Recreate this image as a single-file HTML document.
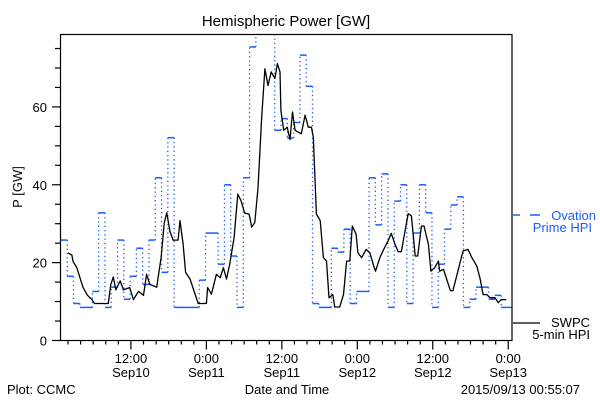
<!DOCTYPE html>
<html><head><meta charset="utf-8"><style>
html,body{margin:0;padding:0;background:#fff;}
svg{display:block;font-family:"Liberation Sans",sans-serif;}
</style></head><body>
<svg id="chart" width="600" height="400" viewBox="0 0 600 400" xmlns="http://www.w3.org/2000/svg">
<rect width="600" height="400" fill="#fff"/>
<text x="286" y="26" font-size="15" text-anchor="middle">Hemispheric Power [GW]</text>
<text x="22" y="187" font-size="13" text-anchor="middle" transform="rotate(-90 22 187)">P [GW]</text>
<text x="287" y="394" font-size="13" text-anchor="middle">Date and Time</text>
<text x="7" y="394" font-size="13">Plot: CCMC</text>
<text x="580" y="394" font-size="13" text-anchor="end">2015/09/13 00:55:07</text>
<g id="grid"></g>
<g id="marks"></g>
<rect x="60.5" y="34.5" width="451.5" height="306" fill="none" stroke="#000" stroke-width="1.2"/>
<g>
<line x1="513" y1="215" x2="520" y2="215" stroke="#1a5cff" stroke-width="1.5"/>
<line x1="530" y1="215" x2="540" y2="215" stroke="#1a5cff" stroke-width="1.5"/>
<text x="596" y="220" font-size="13" fill="#1a5cff" text-anchor="end">Ovation</text>
<text x="592" y="232" font-size="13" fill="#1a5cff" text-anchor="end">Prime HPI</text>
</g>
<g>
<line x1="513" y1="323" x2="540" y2="323" stroke="#000" stroke-width="1.2"/>
<text x="590" y="327" font-size="13" text-anchor="end">SWPC</text>
<text x="590" y="339" font-size="13" text-anchor="end">5-min HPI</text>
</g>
</svg>
<script>
// data: hours since 2015-09-10 00:00
const blueStart = 0.87;
const blueValues = [25.8,16.5,9.5,8.5,8.5,12.6,32.8,8.5,13.7,25.8,10.6,16.5,23.7,14.4,25.8,41.8,17.5,52.1,8.5,8.5,8.5,8.5,15.5,27.6,27.6,19.6,40,21.7,8.5,41.8,75.4,82,82,82,54,57,52,56,73.3,65.3,9.5,8.5,8.5,23.7,22.7,28.6,9.5,12.6,12.6,41.8,29.7,42.8,8.5,35.8,40,9.5,27.6,40,32.8,8.5,19.6,28.6,34.8,36.9,8.5,10.6,13.7,13.7,10.6,11.6,8.5,8.5];
const lineTimes = [2.0,2.6,2.8,3.4,3.9,4.4,5.1,5.8,6.2,8.4,8.8,9.2,9.6,10.3,10.8,11.8,12.4,13.2,14.0,14.5,15.0,16.1,16.8,17.3,17.7,18.2,18.7,19.5,19.8,20.3,20.7,21.4,22.7,24.0,24.2,24.8,25.6,26.2,26.7,27.2,27.7,28.4,29.0,29.5,30.1,30.8,31.2,31.7,32.2,32.8,33.3,33.8,34.3,34.9,35.3,35.7,35.85,36.3,36.85,37.3,37.7,38.1,39.1,39.7,40.2,40.7,41.0,41.5,42.1,42.6,43.1,43.5,44.1,44.4,45.2,45.8,46.3,46.8,47.2,47.8,48.1,48.7,49.4,50.0,50.6,50.9,51.6,52.2,52.9,53.4,54.0,54.5,55.0,55.4,56.1,56.6,57.2,57.6,58.2,58.6,59.3,59.7,60.3,60.9,61.1,61.7,62.2,62.8,63.2,64.0,64.8,65.6,66.2,67.0,67.5,68.0,68.6,69.1,69.9,70.4,70.9,71.7];
const lineValues = [22.5,22,20.3,18.7,16.1,13.6,11.6,10.5,9.5,9.5,14.4,16.3,13,15.3,13,13.6,10.5,12.6,11.6,17,14.4,13.7,21.3,30.3,32.8,28.1,25.8,25.8,30.8,24.8,17.5,15.8,9.5,9.5,13.6,11.9,17,16.1,18.7,15.8,19.6,26.4,37.6,35.9,32.7,32.5,29.1,30.3,39.2,57.4,69.8,65.5,69,67.3,71.1,69,59.1,54,54.8,51.6,58.7,54,53.1,57.9,54.8,54.8,52.3,32.5,30.8,21.3,20.4,11,11.8,8.6,8.6,11.8,20.4,20.4,29.4,27.3,22.5,21.3,23.4,22.5,19.1,17.8,21.3,23.4,25.6,27.5,24.7,22.8,22.8,26.4,32.6,32,21.7,21.7,29.4,29.4,24.7,17.8,18.7,20.4,17.8,18.3,15.8,12.8,12.8,17.8,23,23.4,21.3,19.1,16.1,11.8,11.8,11,11,9.7,10.5,10.5];
const yTickLabels = [0,20,40,60];
const xTickHours = [12,24,36,48,60,72];
const xTickTimes = ["12:00","0:00","12:00","0:00","12:00","0:00"];
const xTickDays = ["Sep10","Sep11","Sep11","Sep12","Sep12","Sep13"];

const NS="http://www.w3.org/2000/svg";
const L=60.5,R=512,T=34.5,B=340.5;
const tMin=0.8,tMax=72.6,vMin=0,vMax=78.6;
function X(t){return L+(t-tMin)/(tMax-tMin)*(R-L);}
function Y(v){return B-(v-vMin)/(vMax-vMin)*(B-T);}
function mk(tag,attrs,parent){const e=document.createElementNS(NS,tag);for(const k in attrs)e.setAttribute(k,attrs[k]);parent.appendChild(e);return e;}
const grid=document.getElementById('grid'),marks=document.getElementById('marks');
// y ticks
for(let v=0;v<=vMax;v+=5){
  const major=v%20===0;
  const t=mk('line',{x1:major?52:55,x2:L,y1:Y(v),y2:Y(v),stroke:'#000','stroke-width':1.2},grid);
  
  
}
yTickLabels.forEach(v=>{
  const t=mk('text',{x:47,y:Y(v)+5,'font-size':13,'text-anchor':'end'},grid);
  t.textContent=v;
  
  
});
// x ticks every 2h
for(let h=2;h<=tMax;h+=2){
  if(h<tMin)continue;
  const major=h%12===0;
  const t=mk('line',{x1:X(h),x2:X(h),y1:B,y2:major?B+9:B+4,stroke:'#000','stroke-width':1.2},grid);
  
  
}
xTickHours.forEach((h,i)=>{
  const t=mk('text',{x:X(h),y:363,'font-size':13,'text-anchor':'middle'},grid);
  t.textContent=xTickTimes[i];
  
  
  const d=mk('text',{x:X(h),y:377,'font-size':13,'text-anchor':'middle'},grid);
  d.textContent=xTickDays[i];
  
  
});
// clip
const defs=mk('defs',{},marks);
const cp=mk('clipPath',{id:'clip'},defs);
mk('rect',{x:L,y:T,width:R-L,height:B-T},cp);
const g=mk('g',{'clip-path':'url(#clip)'},marks);
// blue steps
blueValues.forEach((v,i)=>{
  const t0=blueStart+i,t1=Math.min(blueStart+i+1,tMax);
  const s=mk('line',{x1:X(t0),x2:X(t1),y1:Y(v),y2:Y(v),stroke:'#1a5cff','stroke-width':1.5},g);
  
  
  if(i>0){
    const c=mk('line',{x1:X(t0),x2:X(t0),y1:Y(blueValues[i-1]),y2:Y(v),stroke:'#1a5cff','stroke-width':1.3,'stroke-dasharray':'1.3,3'},g);
    
    
  }
});
// black line
const pts=lineTimes.map((t,i)=>X(t).toFixed(1)+','+Y(lineValues[i]).toFixed(1)).join(' ');
const pl=mk('polyline',{points:pts,fill:'none',stroke:'#000','stroke-width':1.3,'stroke-linejoin':'round'},g);


</script>
</body></html>
